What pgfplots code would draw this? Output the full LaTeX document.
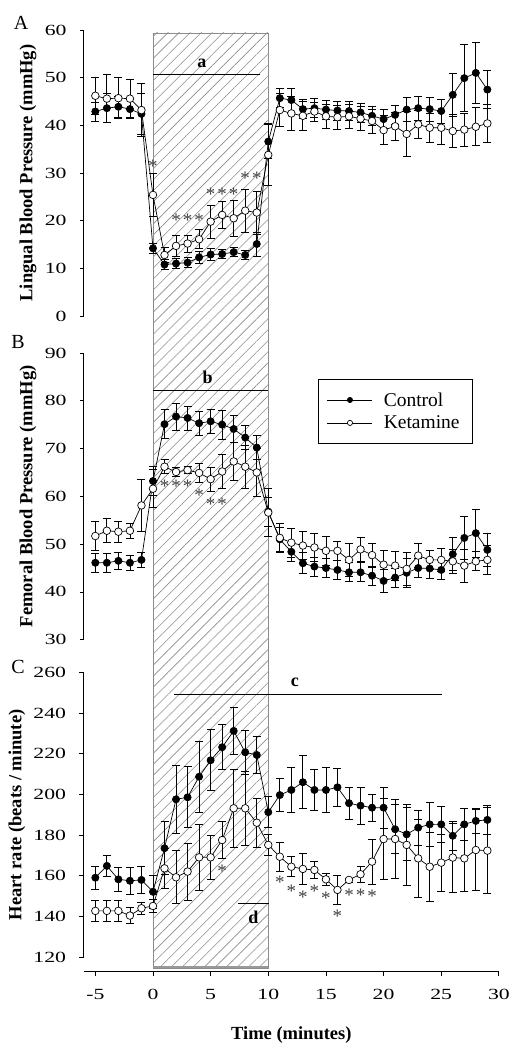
\documentclass[border=0pt]{standalone}
\usepackage{fontspec}
\setmainfont{Liberation Serif}
\usepackage{pgfplots}
\pgfplotsset{compat=1.18}
\usetikzlibrary{patterns.meta}

\pgfplotstableread{
t v e
-5 42.9 2.0
-4 43.6 3.0
-3 43.9 2.2
-2 43.4 2.0
-1 42.4 4.4
0 14.2 1.0
1 10.8 1.0
2 11.0 1.0
3 11.2 1.0
4 12.3 1.2
5 12.9 1.2
6 13.0 1.0
7 13.4 1.0
8 12.8 1.0
9 15.1 2.5
10 36.6 3.5
11 45.7 2.0
12 45.3 2.5
13 43.4 2.0
14 43.6 2.0
15 43.3 2.0
16 43.1 2.0
17 43.0 2.0
18 42.7 2.0
19 42.0 2.0
20 41.3 2.0
21 42.2 2.0
22 43.3 2.5
23 43.6 2.5
24 43.4 2.5
25 43.0 2.5
26 46.4 4.5
27 49.9 7.0
28 51.0 6.5
29 47.5 4.0
}\ctrlA
\pgfplotstableread{
t v e
-5 46.2 3.9
-4 45.6 5.0
-3 45.7 4.3
-2 45.6 4.0
-1 43.2 5.6
0 25.4 4.5
1 12.8 1.5
2 14.7 2.3
3 15.2 1.8
4 16.1 2.0
5 19.8 3.5
6 21.2 2.8
7 20.5 3.8
8 22.1 4.5
9 21.7 4.5
10 33.8 6.5
11 43.2 3.5
12 42.5 3.5
13 42.0 3.0
14 42.9 2.0
15 41.9 2.5
16 41.7 2.5
17 41.9 2.5
18 41.4 2.5
19 40.9 2.5
20 39.0 3.0
21 39.8 3.0
22 38.2 4.8
23 40.2 3.0
24 39.5 3.0
25 39.5 3.5
26 38.8 3.5
27 39.1 3.5
28 39.7 4.0
29 40.4 4.0
}\ketA
\pgfplotstableread{
t v e
-5 46.1 2.0
-4 46.1 2.0
-3 46.5 1.8
-2 46.1 1.5
-1 46.7 1.5
0 63.2 3.0
1 75.1 3.0
2 76.7 2.8
3 76.4 2.5
4 75.3 2.5
5 75.7 2.5
6 75.0 3.0
7 74.1 2.8
8 72.3 2.5
9 70.2 2.5
10 56.8 3.0
11 51.0 2.5
12 48.4 2.0
13 46.0 2.2
14 45.3 2.0
15 45.0 2.0
16 44.6 2.0
17 44.1 2.0
18 44.1 2.0
19 43.4 2.0
20 42.3 2.5
21 43.0 2.0
22 44.0 3.0
23 45.0 2.0
24 44.9 2.0
25 44.6 2.0
26 47.9 3.5
27 51.3 4.5
28 52.3 5.0
29 48.8 3.5
}\ctrlB
\pgfplotstableread{
t v e
-5 51.7 3.0
-4 52.8 2.5
-3 52.6 2.2
-2 52.8 1.5
-1 58.1 5.5
0 61.6 4.0
1 66.2 1.5
2 65.1 1.0
3 65.5 0.8
4 64.9 2.0
5 63.6 2.5
6 65.2 3.5
7 67.3 4.0
8 66.2 4.5
9 65.0 5.0
10 56.6 5.0
11 51.3 3.0
12 50.3 3.0
13 49.7 3.0
14 49.3 3.0
15 48.6 3.0
16 48.6 2.0
17 46.7 3.5
18 48.9 2.5
19 47.7 2.5
20 45.7 3.0
21 45.5 3.0
22 44.8 3.5
23 47.6 2.5
24 46.7 2.0
25 46.7 2.5
26 46.4 2.5
27 45.5 3.5
28 46.4 2.0
29 46.7 3.0
}\ketB
\pgfplotstableread{
t v e
-5 159.1 5.7
-4 164.9 5.0
-3 158.3 6.0
-2 157.6 6.5
-1 158.0 6.5
0 152.2 8.0
1 173.6 13.0
2 197.6 16.5
3 198.6 15.0
4 208.7 17.5
5 216.8 15.0
6 223.2 11.0
7 231.2 11.5
8 220.7 11.0
9 219.4 9.0
10 191.3 7.5
11 199.7 8.0
12 202.2 11.0
13 206.0 13.0
14 202.2 10.0
15 202.2 11.0
16 203.5 9.5
17 195.7 8.0
18 194.5 9.0
19 193.5 6.5
20 193.5 10.0
21 182.9 12.0
22 180.4 13.0
23 183.7 8.5
24 185.3 11.0
25 185.3 9.0
26 179.7 7.0
27 185.3 8.0
28 187.0 6.0
29 187.5 7.0
}\ctrlC
\pgfplotstableread{
t v e
-5 142.8 5.2
-4 142.8 5.0
-3 142.8 5.0
-2 140.5 4.0
-1 144.1 3.0
0 145.2 3.0
1 163.7 10.0
2 159.3 13.0
3 162.1 14.0
4 169.1 16.0
5 169.1 11.0
6 177.6 9.0
7 193.2 19.0
8 193.2 18.0
9 186.1 12.0
10 175.2 5.0
11 169.4 7.0
12 164.5 5.0
13 163.4 7.5
14 162.9 4.0
15 158.3 3.0
16 153.1 7.0
17 158.0 1.0
18 160.8 4.0
19 167.0 11.0
20 178.1 20.0
21 178.1 19.5
22 175.2 20.0
23 168.6 19.0
24 164.5 17.0
25 166.5 14.0
26 169.0 17.0
27 168.6 16.0
28 172.7 20.0
29 172.4 21.0
}\ketC

\pgfplotsset{
  panel/.style={
    scale only axis, width=415.1pt, xmin=-6, xmax=30, clip=false,
    anchor=south west,
    axis y line*=left,
    tick align=outside, major tick length=4pt,
    axis line style={line width=0.8pt},
    every tick/.style={black, line width=0.8pt},
    /pgf/number format/assume math mode=true,
    yticklabel style={font=\fontsize{15.5}{18}\selectfont, xscale=1.4, xshift=-6pt},
    ylabel style={font=\bfseries\fontsize{18.5}{21}\selectfont, anchor=center},
  },
  ctrl/.style={black, line width=0.7pt, mark=*, mark size=3.6pt,
    mark options={fill=black, solid},
    error bars/.cd, y dir=both, y explicit,
    error bar style={line width=0.8pt, black},
    error mark options={rotate=90, mark size=4pt, line width=0.8pt, black}},
  ket/.style={black, line width=0.7pt, mark=*, mark size=3.8pt,
    mark options={fill=white, solid},
    error bars/.cd, y dir=both, y explicit,
    error bar style={line width=0.8pt, black},
    error mark options={rotate=90, mark size=4pt, line width=0.8pt, black}},
}
\tikzset{
  star/.style={font=\fontsize{19}{19}\selectfont, text=black!75, yshift=-2.5pt, inner sep=0pt},
  lbl/.style={font=\bfseries\fontsize{18}{18}\selectfont, inner sep=0pt},
}
\newcommand{\lgd}[1]{\fontsize{19.5}{19}\selectfont\strut\makebox[78pt][l]{#1}}

\begin{document}
\begin{tikzpicture}
\path[use as bounding box] (0pt,0pt) rectangle (521pt,1050pt);
% hatched exposure period
\fill[pattern={Lines[angle=45,distance=7.8pt,line width=0.6pt]}, pattern color=black!45]
  (153pt,82pt) rectangle (268.3pt,1017pt);
\draw[black!45, line width=0.8pt] (153pt,82pt) rectangle (268.3pt,1017pt);
\draw[black!40, line width=2.5pt] (153pt,83pt) -- (268.3pt,83pt);

% panel letters
\node[font=\fontsize{20}{22}\selectfont] at (21pt,1027pt) {A};
\node[font=\fontsize{20}{22}\selectfont] at (18pt,708pt) {B};
\node[font=\fontsize{20}{22}\selectfont] at (18pt,383pt) {C};

% ---------------- Panel A
\begin{axis}[panel, at={(83.8pt,734pt)}, height=286pt,
  axis x line=none, xtick=\empty,
  ymin=0, ymax=60, ytick={0,10,...,60},
  ylabel={Lingual Blood Pressure (mmHg)},
  ylabel style={at={(axis description cs:-0.1344,0.5)}}]
\addplot[ctrl] table[x=t,y=v,y error=e] {\ctrlA};
\addplot[ket] table[x=t,y=v,y error=e] {\ketA};
\draw[line width=0.8pt] (axis cs:0,50.6) -- (axis cs:9.3,50.6);
\node[lbl] at (axis cs:4.25,52.9) {a};
\node[star] at (axis cs:0,32.0) {*};
\node[star] at (axis cs:2,20.5) {*};
\node[star] at (axis cs:3,20.5) {*};
\node[star] at (axis cs:4,20.5) {*};
\node[star] at (axis cs:5,26.1) {*};
\node[star] at (axis cs:6,26.1) {*};
\node[star] at (axis cs:7,26.1) {*};
\node[star] at (axis cs:8,29.4) {*};
\node[star] at (axis cs:9,29.4) {*};
\end{axis}

% ---------------- Panel B
\begin{axis}[panel, at={(83.8pt,410.3pt)}, height=286.7pt,
  axis x line=none, xtick=\empty,
  ymin=30, ymax=90, ytick={30,40,...,90},
  ylabel={Femoral Blood Pressure (mmHg)},
  ylabel style={at={(axis description cs:-0.1344,0.5)}},
  legend style={at={(0.5635,0.909)}, anchor=north west,
    draw=black, line width=0.8pt,
    inner xsep=9pt, inner ysep=11pt, row sep=4pt,
    /tikz/every odd column/.append style={column sep=9pt}},
  legend cell align=left,
  legend image code/.code={%
     \draw[#1, mark=none] (0pt,0pt) -- (45pt,0pt);
     \draw[#1, mark size=2.6pt] plot coordinates {(22.5pt,0pt)};},
  ]
\addplot[ctrl] table[x=t,y=v,y error=e] {\ctrlB};
\addlegendentry{\lgd{Control}}
\addplot[ket] table[x=t,y=v,y error=e] {\ketB};
\addlegendentry{\lgd{Ketamine}}
\draw[line width=0.8pt] (axis cs:0,82.1) -- (axis cs:10,82.1);
\node[lbl] at (axis cs:4.75,84.9) {b};
\node[star] at (axis cs:1,62.6) {*};
\node[star] at (axis cs:2,62.6) {*};
\node[star] at (axis cs:3,62.6) {*};
\node[star] at (axis cs:4,60.7) {*};
\node[star] at (axis cs:5,58.9) {*};
\node[star] at (axis cs:6,58.9) {*};
\end{axis}

% ---------------- Panel C
\begin{axis}[panel, at={(83.8pt,92.7pt)}, height=285pt,
  axis x line*=bottom, axis x line shift=13.7pt,
  ymin=120, ymax=260, ytick={120,140,...,260},
  xtick={-5,0,...,30},
  major tick length=4.5pt,
  xticklabel style={font=\fontsize{15.5}{18}\selectfont, xscale=1.4, yshift=-10pt},
  xlabel={Time (minutes)},
  xlabel style={font=\bfseries\fontsize{18.5}{21}\selectfont, at={(axis description cs:0.5,-0.274)}, anchor=center},
  ylabel={Heart rate (beats / minute)},
  ylabel style={at={(axis description cs:-0.161,0.5)}}]
\addplot[ctrl] table[x=t,y=v,y error=e] {\ctrlC};
\addplot[ket] table[x=t,y=v,y error=e] {\ketC};
\draw[line width=0.8pt] (axis cs:1.85,249.3) -- (axis cs:25.1,249.3);
\node[lbl] at (axis cs:12.3,255.2) {c};
\draw[line width=0.8pt] (axis cs:7.4,146.5) -- (axis cs:10.1,146.5);
\node[lbl] at (axis cs:8.7,139.8) {d};
\node[star] at (axis cs:6,163.7) {*};
\node[star] at (axis cs:11,158.0) {*};
\node[star] at (axis cs:12,153.9) {*};
\node[star] at (axis cs:13,150.6) {*};
\node[star] at (axis cs:14,153.9) {*};
\node[star] at (axis cs:15,150.1) {*};
\node[star] at (axis cs:16,141.3) {*};
\node[star] at (axis cs:17,151.5) {*};
\node[star] at (axis cs:18,151.5) {*};
\node[star] at (axis cs:19,151.2) {*};
\end{axis}
\end{tikzpicture}
\end{document}
